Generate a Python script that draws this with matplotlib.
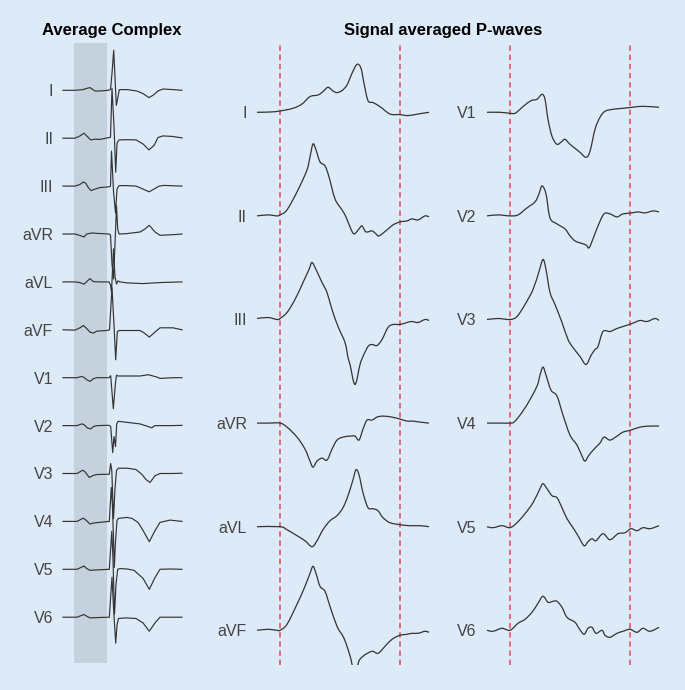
import matplotlib
matplotlib.use("Agg")
import matplotlib.pyplot as plt
from matplotlib.path import Path
from matplotlib.patches import PathPatch

# ---------------------------------------------------------------
# Data: (time, amplitude) pairs per lead
# time in ms-like units, amplitude in arbitrary units (up = positive)
# ---------------------------------------------------------------

# Average complex, t = 0 at start of the P-wave window (window 0..33)
avg_I = [(-11, 0), (1, 0), (9, 0.7), (13, 2), (16, 2.7), (18, 1.3), (21, -0.7), (26, -0.7),
         (34, 0), (36.5, 0.7), (38, 17), (39.7, 40), (41, 13), (42.3, -15), (43.7, -8),
         (45.3, 0.7), (53, 0.7), (63, -0.7), (69, -3.3), (75, -7.3), (79, -5), (84, -0.7),
         (89, 1.3), (99, 0.7), (108, 0)]
avg_II = [(-11, 0), (1, 0), (6, 2.3), (10, 5), (13.3, 1.7), (16.7, -1.7), (21, -1), (26, -1.2),
          (34.3, 0.5), (36.5, 1), (38, 50), (40, 12), (41.7, -34), (43, -5), (45, -1.7),
          (52, -1.5), (62, -1.7), (69, -5.7), (75, -11.7), (80, -7.3), (84, 0.7), (89, 2.3),
          (99, 1.7), (108, 0.3)]
avg_III = [(-11, 0), (1, 0), (6, 1.7), (9.5, 4.3), (12, 2.5), (14, -1), (17, -4.5), (21, -3),
           (26, -1.5), (35, -0.7), (36.5, 0), (37.5, 35), (39.5, -5), (41.5, -27), (43, -3),
           (45, 0.5), (52, 0.5), (62, 0), (68, -2.5), (75, -5.7), (80, -3), (85, 0), (90, 0.7),
           (100, 0.3), (108, 0)]
avg_aVR = [(-11, 0), (1, 0), (6, -1.5), (10, -3), (12.7, 0), (17.7, 1), (25, 0.5), (35, 0),
           (36.5, -1), (38, -30), (39.5, -45), (41, -10), (42.5, 28), (43.7, 5), (45, 0),
           (52, 0.3), (66, 2), (71, 5), (75.3, 8.7), (81, 2), (86, -1.3), (99, -0.7), (108, 0)]
avg_aVL = [(-11, 0), (1, 0), (6, -0.7), (10, -2.3), (12.7, 0.3), (16, 3.3), (19.3, 0.3), (26, 0),
           (35, 0), (36.5, -3), (37.5, -10), (39.5, 33), (41, 5), (42.5, -2), (44, 1), (46, 0),
           (53, -1), (69, -1.7), (80, -1), (90, -0.5), (108, 0)]
avg_aVF = [(-11, 0), (1, -0.3), (6, 2), (9.3, 4.3), (12, 2), (16, -2.3), (19.3, -3.3), (23, -1.3),
           (33, -0.7), (35.5, 0), (38, 42), (40, 5), (41.7, -30), (43.3, -2), (45, -0.7),
           (56, -0.7), (66, -0.7), (70, -3), (75.3, -7.3), (81, -2.3), (86, 2), (99, 2), (108, 0)]
avg_V1 = [(-11, 0), (3, 0), (7.7, 1.3), (10, 0.3), (12.7, -2), (16, -3.7), (19.3, -1), (23, 0),
          (35, 0), (36.7, 2), (39.3, -31), (41.5, -5), (42.5, 2.5), (44, 1.7), (53, 1.7),
          (66, 1.7), (70, 2.3), (74.3, 3), (82.7, 0.7), (86, -0.7), (99, 0), (108, 0)]
avg_V2 = [(-11, 0), (3, 0), (7.7, 1.7), (10, 1), (13.3, -2.3), (16.7, -3.3), (19.3, -1), (23, 0),
          (35, 0.3), (36.7, -1), (38.7, -27), (40, -11), (41.5, -21), (42.7, 1.7), (44.3, 4.3),
          (52.7, 3.3), (66, 1.7), (74.3, -1), (77.7, -2.3), (81, 0), (90, 0), (99, 0), (108, 0.3)]
avg_V3 = [(-11, 0), (3, 0), (8.7, 3.3), (11, 1.7), (15.3, -4), (19, -2), (23, -1), (35.3, -0.7),
          (36.7, 10), (37.8, 3), (39.5, -45), (41, -15), (42.5, 3), (44.3, 5.3), (53, 5.3),
          (62, 4), (68, -1), (72, -6), (76, -9), (81, -2.3), (86, 0), (99, 0), (108, 0.3)]
avg_V4 = [(-11, 0), (3, 0), (9.3, 3.3), (12.7, 0.7), (16, -2.7), (19.3, -1.7), (25, -1),
          (35.3, 0), (37.3, 34), (38.5, 15), (40.3, -46), (41.5, -20), (43, 1), (44.5, 3),
          (52.7, 4), (58, 3), (64, -1), (69, -9), (75.3, -20.3), (81, -9.3), (86, -1),
          (96, 1.3), (108, 0)]
avg_V5 = [(-11, 0), (3, 0), (10, 3.3), (12.7, 0.7), (16, -1), (25, -0.5), (35.3, 0), (37.8, 38),
          (39, 10), (40.5, -45), (42, -15), (43.7, 0), (46, 0.7), (53, 0.3), (60, -1), (69, -9),
          (75.3, -20), (81, -8.3), (86, 0), (96, 0.3), (108, 0)]
avg_V6 = [(-11, 0), (3, 0), (10, 2.7), (12.7, 1), (16, -0.7), (25, -0.3), (35.3, 0), (38, 40),
          (39.5, 10), (41.7, -26), (43, -8), (44.5, -1.3), (52, -0.7), (62, -1.3), (69, -5.7),
          (75.3, -14), (81, -5.7), (86, 0), (96, 0), (108, 0)]

# Signal averaged P-waves, t = 0 at P onset, t = 120 at P offset
p_I = [(-23, 0), (-10, 0.3), (0, 1.3), (13, 4), (22, 8.3), (30, 15.7), (38, 17.3), (43, 20.7),
       (48, 25), (53, 21.3), (57, 19.7), (62, 21.7), (67, 27.3), (72, 39), (77, 48), (81, 44),
       (84, 29), (88, 11.7), (93, 9.7), (100, 5.7), (110, -1.7), (120, -2.3), (128, -3.3),
       (138, -1.7), (149, 0)]
p_II = [(-23, 0), (-12, 1), (-3, 0), (0, 1), (7, 6), (18, 26), (27, 46), (30, 59), (33, 72),
        (36, 66), (40, 54), (45, 50), (49, 39), (55, 17), (62, 6), (66, -1), (70, -11), (74, -18),
        (79, -13), (82, -10), (86, -16), (92, -15), (96, -18), (99, -20), (107, -14), (113, -9),
        (120, -6), (127, -5), (132, -3), (138, -4), (145, 0), (149, -1)]
p_III = [(-23, 1), (-12, 2), (-3, 0), (0, 1), (7, 7), (15, 20), (23, 37), (29, 50), (32, 57),
         (36, 50), (42, 37), (47, 27), (52, 10), (58, -7), (65, -23), (68, -38), (70, -45),
         (75, -65), (80, -45), (83, -37), (88, -27), (92, -25), (97, -26), (102, -20), (108, -8),
         (113, -5), (120, -5), (127, -3), (132, -2), (138, -3), (145, 0), (149, -1)]
p_aVR = [(-23, 0), (-12, 0), (0, 0), (7, -4), (17, -14), (25, -26), (30, -38), (33, -44),
         (37, -38), (42, -35), (47, -37), (52, -26), (57, -17), (63, -14), (70, -13), (75, -13),
         (79, -17), (83, -6), (87, 3), (92, 3), (97, 6), (103, 7), (112, 6), (120, 4), (127, 2),
         (133, 2), (140, 1), (149, 0)]
p_aVL = [(-23, 0), (0, 0), (7, -3), (17, -9), (25, -14), (32, -20), (37, -14), (43, -3), (50, 6),
         (57, 11), (63, 19), (68, 31), (73, 47), (76, 57), (79, 52), (83, 34), (88, 19), (93, 18),
         (98, 16), (103, 9), (110, 4), (120, 2), (130, 1), (140, 1), (149, 0)]
p_aVF = [(-23, 0), (-12, 1), (-3, 0), (0, 0), (7, 6), (17, 26), (25, 44), (30, 57), (33, 64),
         (36, 57), (40, 44), (45, 39), (50, 24), (57, 4), (63, -6), (67, -16), (72, -34),
         (75, -62), (78, -34), (83, -26), (92, -21), (98, -23), (105, -16), (112, -9), (120, -5),
         (127, -4), (132, -3), (138, -3), (145, -1), (149, -2)]
p_V1 = [(-23, 0), (-10, 0), (0, -1), (5, -1), (10, 3), (17, 9), (22, 12), (27, 13), (32, 18),
        (35, 13), (38, -7), (42, -24), (47, -32), (52, -29), (55, -27), (60, -32), (65, -36),
        (70, -40), (76, -45), (80, -39), (85, -17), (90, -5), (95, 1), (103, 3), (113, 4),
        (122, 5), (133, 6), (149, 5)]
p_V2 = [(-23, 0), (-12, 1), (0, 0), (8, 1), (17, 8), (25, 14), (29, 22), (32, 30), (36, 22),
        (40, -2), (47, -8), (55, -13), (60, -20), (65, -25), (70, -27), (76, -29), (79, -32),
        (83, -23), (88, -10), (94, 2), (100, 2), (107, -1), (113, 2), (122, 3), (128, 4),
        (135, 3), (143, 5), (149, 4)]
p_V3 = [(-23, 0), (-12, 1), (0, 0), (7, 3), (15, 15), (23, 30), (29, 48), (33, 60), (36, 50),
        (40, 27), (45, 15), (52, -3), (58, -20), (63, -28), (70, -37), (76, -45), (81, -36),
        (85, -30), (88, -27), (93, -12), (100, -12), (107, -9), (113, -7), (122, -4), (130, -1),
        (137, -2), (145, 1), (149, -1)]
p_V4 = [(-23, 0), (-10, 0), (0, 0), (4, 1), (10, 8), (18, 20), (27, 37), (30, 48), (33, 56),
        (36, 48), (41, 33), (47, 27), (53, 8), (60, -12), (67, -22), (72, -33), (75, -38),
        (79, -32), (85, -25), (90, -20), (94, -14), (100, -17), (107, -13), (113, -9), (121, -7),
        (130, -4), (140, -3), (149, -3)]
p_V5 = [(-23, 0), (-17, -1), (-8, 1), (0, -1), (7, 4), (15, 13), (23, 24), (30, 38), (33, 43),
        (37, 38), (42, 31), (47, 29), (52, 19), (57, 8), (63, -1), (68, -9), (74, -19), (78, -15),
        (82, -12), (86, -14), (93, -7), (100, -13), (108, -7), (115, -6), (121, -2), (127, -4),
        (133, -1), (140, -2), (149, 1)]
p_V6 = [(-23, 0), (-17, -1), (-8, 2), (0, 0), (8, 7), (15, 11), (22, 18), (28, 27), (33, 34),
        (38, 28), (43, 29), (47, 29), (52, 23), (57, 13), (65, 8), (69, 2), (74, -4), (78, 2),
        (82, 3), (86, -3), (92, 0), (95, -5), (100, -7), (107, -3), (113, -1), (120, 1),
        (127, -2), (133, 2), (140, -1), (149, 3)]

avg_names = ["I", "II", "III", "aVR", "aVL", "aVF", "V1", "V2", "V3", "V4", "V5", "V6"]
avg_traces = [avg_I, avg_II, avg_III, avg_aVR, avg_aVL, avg_aVF,
              avg_V1, avg_V2, avg_V3, avg_V4, avg_V5, avg_V6]
limb_names = ["I", "II", "III", "aVR", "aVL", "aVF"]
limb_traces = [p_I, p_II, p_III, p_aVR, p_aVL, p_aVF]
chest_names = ["V1", "V2", "V3", "V4", "V5", "V6"]
chest_traces = [p_V1, p_V2, p_V3, p_V4, p_V5, p_V6]

p_window = (0, 33)        # shaded window in the average complex
p_markers = (0, 120)      # P-wave onset / offset

# ---------------------------------------------------------------
BG = "#ddeaf7"
BAND = "#c5d1dd"
LINE = "#333333"
RED = "#dc4b57"
TXT = "#444444"
W, H = 685, 690

plt.rcParams['font.family'] = ['Liberation Sans', 'DejaVu Sans']

fig = plt.figure(figsize=(W / 100, H / 100), dpi=100, facecolor=BG)


def add_px_axes(x0, y0, x1, y1):
    ax = fig.add_axes([x0 / W, 1 - y1 / H, (x1 - x0) / W, (y1 - y0) / H])
    ax.set_facecolor("none")
    for s in ax.spines.values():
        s.set_visible(False)
    ax.set_xticks([])
    return ax


def smooth_path(pts):
    # cubic Bezier segments through every read point (Catmull-Rom tangents)
    verts = [pts[0]]
    codes = [Path.MOVETO]
    n = len(pts)
    for i in range(n - 1):
        p0 = pts[max(i - 1, 0)]
        p1 = pts[i]
        p2 = pts[i + 1]
        p3 = pts[min(i + 2, n - 1)]
        c1 = (p1[0] + (p2[0] - p0[0]) / 6, p1[1] + (p2[1] - p0[1]) / 6)
        c2 = (p2[0] - (p3[0] - p1[0]) / 6, p2[1] - (p3[1] - p1[1]) / 6)
        verts += [c1, c2, p2]
        codes += [Path.CURVE4] * 3
    return Path(verts, codes)


def draw_traces(ax, names, traces, spacing, pad, smooth):
    offsets = [-i * spacing for i in range(len(traces))]
    for tr, off in zip(traces, offsets):
        pts = [(p[0], p[1] + off) for p in tr]
        if smooth:
            ax.add_patch(PathPatch(smooth_path(pts), fill=False, edgecolor=LINE,
                                   lw=0.9, joinstyle="round"))
        else:
            ax.plot([p[0] for p in pts], [p[1] for p in pts], color=LINE, lw=0.85,
                    solid_joinstyle="round")
    ax.set_yticks(offsets)
    ax.set_yticklabels(names)
    ax.tick_params(axis="y", length=0, pad=pad, labelsize=11.5, labelcolor=TXT)


# Average complex panel
ax1 = add_px_axes(60, 43, 190, 665)
ax1.axvspan(*p_window, ymin=0.004, ymax=1, color=BAND, lw=0, zorder=0)
draw_traces(ax1, avg_names, avg_traces, 47.9, 5.0, smooth=False)
ax1.set_xlim(-14, 116)
ax1.set_ylim(-574.7, 47.3)

# Signal averaged P-waves: limb leads and chest leads
for x0, names, traces, pad in [(256, limb_names, limb_traces, 6.5),
                               (486, chest_names, chest_traces, 7.0)]:
    ax = add_px_axes(x0, 43, x0 + 176, 665)
    for m in p_markers:
        ax.axvline(m, color=RED, lw=1.1, ls=(0, (3.5, 2.5)), zorder=0)
    draw_traces(ax, names, traces, 103.6, pad, smooth=True)
    ax.set_xlim(-24, 152)
    ax.set_ylim(-552.7, 69.3)

fig.text(112 / W, 1 - 31 / H, "Average Complex", ha="center", va="center",
         fontsize=12, fontweight="bold", color="black")
fig.text(443 / W, 1 - 31 / H, "Signal averaged P-waves", ha="center", va="center",
         fontsize=12, fontweight="bold", color="black")

fig.savefig("out.png", dpi=100, facecolor=BG)
